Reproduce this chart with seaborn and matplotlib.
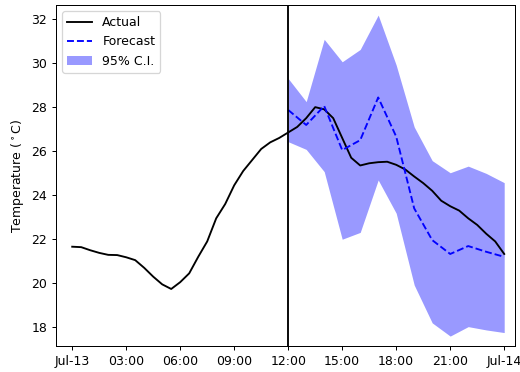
import numpy as np
import pandas as pd
import matplotlib
matplotlib.use("Agg")
import matplotlib.pyplot as plt
import matplotlib.dates as mdates
import seaborn as sns

# Actual temperature, every 30 minutes from Jul-13 00:00 to Jul-14 00:00
actual_temp = [21.66, 21.64, 21.50, 21.38, 21.29, 21.28, 21.18, 21.05, 20.70, 20.30,
               19.95, 19.74, 20.05, 20.45, 21.20, 21.90, 22.95, 23.60, 24.45, 25.10,
               25.60, 26.10, 26.40, 26.60, 26.85, 27.10, 27.50, 28.00, 27.90, 27.50,
               26.60, 25.70, 25.35, 25.45, 25.50, 25.52, 25.38, 25.17, 24.85, 24.55,
               24.20, 23.75, 23.50, 23.30, 22.95, 22.65, 22.25, 21.90, 21.33]

# Hourly forecast from 12:00 to 24:00
forecast_temp = [27.87, 27.19, 28.05, 26.05, 26.50, 28.44, 26.66, 23.40, 21.96,
                 21.33, 21.69, 21.43, 21.20]
ci_upper = [29.30, 28.25, 31.08, 30.06, 30.62, 32.18, 29.91, 27.10, 25.57,
            25.02, 25.32, 24.99, 24.57]
ci_lower = [26.43, 26.08, 25.07, 22.00, 22.31, 24.69, 23.18, 19.92, 18.20,
            17.60, 18.03, 17.88, 17.76]

start = pd.Timestamp("2020-07-13 00:00")
actual_time = pd.date_range(start, periods=len(actual_temp), freq="30min")
forecast_time = pd.date_range(start + pd.Timedelta(hours=12), periods=len(forecast_temp), freq="1h")

actual_df = pd.DataFrame({"time": actual_time, "temp": actual_temp})
fc_df = pd.DataFrame({"time": forecast_time, "temp": forecast_temp,
                      "lo": ci_lower, "hi": ci_upper})

DPI = 90
fig = plt.figure(figsize=(520 / DPI, 372 / DPI), dpi=DPI)
ax = fig.add_axes([0.1077, 0.0699, 0.8827, 0.9167])

sns.lineplot(data=actual_df, x="time", y="temp", color="black", lw=1.5,
             label="Actual", ax=ax)
sns.lineplot(data=fc_df, x="time", y="temp", color="blue", lw=1.5,
             linestyle="--", label="Forecast", ax=ax)
ax.fill_between(fc_df["time"], fc_df["lo"], fc_df["hi"], color="blue",
                alpha=0.4, lw=0, label="95% C.I.")
ax.axvline(start + pd.Timedelta(hours=12), color="black", lw=1.5)

ax.set_xlim(start - pd.Timedelta(hours=0.9), start + pd.Timedelta(hours=24.6))
ax.set_ylim(17.15, 32.64)
ax.set_yticks([18, 20, 22, 24, 26, 28, 30, 32])

ax.xaxis.set_major_locator(mdates.HourLocator(byhour=range(0, 24, 3)))
def fmt(x, pos=None):
    d = mdates.num2date(x)
    if d.hour == 0 and d.minute == 0:
        return d.strftime("%b-%d")
    return d.strftime("%H:%M")
ax.xaxis.set_major_formatter(plt.FuncFormatter(fmt))

ax.set_xlabel("")
ax.set_ylabel(r"Temperature ($^\circ$C)")
ax.legend(loc="upper left")

fig.savefig("out.png", dpi=DPI)
